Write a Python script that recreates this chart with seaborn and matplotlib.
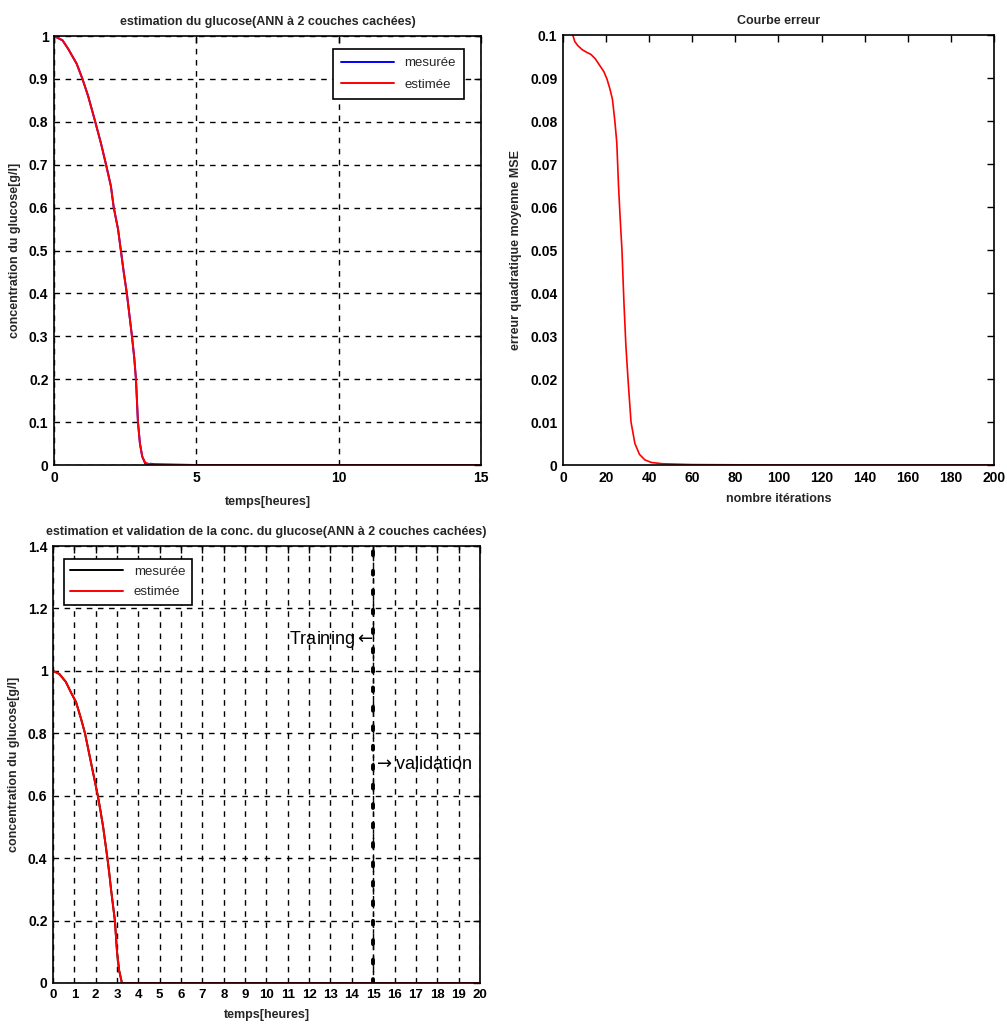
import numpy as np
import pandas as pd
import matplotlib
matplotlib.use("Agg")
import matplotlib.pyplot as plt
import seaborn as sns

# --- glucose estimation (training window, 0-15 h) ---
t_train = [0, 0.3, 0.5, 0.8, 1.0, 1.2, 1.45, 1.65, 1.83, 2.0, 2.1, 2.25, 2.35, 2.45,
           2.56, 2.65, 2.74, 2.82, 2.88, 2.95, 3.02, 3.1, 3.2, 3.3, 3.4, 3.5, 5, 10, 15]
glc_est_train = [1.0, 0.99, 0.97, 0.935, 0.9, 0.86, 0.8, 0.75, 0.7, 0.65, 0.6, 0.55, 0.5, 0.45,
                 0.4, 0.35, 0.3, 0.25, 0.2, 0.1, 0.05, 0.02, 0.006, 0.003, 0.002, 0.0, 0.0, 0.0, 0.0]
glc_meas_train = [1.0, 0.99, 0.97, 0.935, 0.9, 0.86, 0.8, 0.75, 0.7, 0.65, 0.6, 0.55, 0.5, 0.45,
                  0.4, 0.35, 0.3, 0.25, 0.2, 0.1, 0.05, 0.02, 0.004, 0.002, 0.003, 0.002, 0.0, 0.0, 0.0]

# --- MSE learning curve ---
iterations = [4.6, 5.5, 7, 9, 11, 13, 15, 17, 19, 20.5, 21.8, 23, 24.1, 25, 25.8, 26.5,
              27.4, 28.3, 29.2, 30.2, 31.6, 33.4, 35.5, 38, 41, 46, 60, 100, 150, 200]
mse = [0.1, 0.0985, 0.0975, 0.0966, 0.096, 0.0955, 0.0945, 0.093, 0.0915, 0.0897, 0.0875, 0.085,
       0.08, 0.075, 0.065, 0.058, 0.05, 0.038, 0.028, 0.02, 0.01, 0.005, 0.0025, 0.0012, 0.0006,
       0.0003, 0.0001, 0.0, 0.0, 0.0]

# --- estimation + validation (0-20 h) ---
t_full = [0, 0.3, 0.6, 0.85, 1.08, 1.3, 1.5, 1.65, 1.8, 1.95, 2.1, 2.23, 2.35, 2.45, 2.55,
          2.64, 2.72, 2.81, 2.9, 3.0, 3.1, 3.23, 4, 10, 15, 20]
glc_est_full = [1.0, 0.99, 0.965, 0.93, 0.9, 0.85, 0.8, 0.75, 0.7, 0.65, 0.6, 0.55, 0.5, 0.45, 0.4,
                0.35, 0.3, 0.25, 0.2, 0.1, 0.04, 0.0, 0.0, 0.0, 0.0, 0.0]
glc_meas_full = list(glc_est_full)
split_time = 15
train_label = r"Training$\leftarrow$"
valid_label = r"$\rightarrow$validation"
train_label_y = 1.1
valid_label_y = 0.7

sns.set_theme(style="white")
plt.rcParams["font.family"] = ["Liberation Sans", "DejaVu Sans"]
plt.rcParams["axes.edgecolor"] = "black"
plt.rcParams["axes.linewidth"] = 1.2
plt.rcParams["mathtext.fontset"] = "dejavusans"

fig = plt.figure(figsize=(10.07, 10.32), dpi=100)
ax1 = fig.add_axes([0.0536, 0.5494, 0.424, 0.4157])
ax2 = fig.add_axes([0.559, 0.5494, 0.428, 0.4166])
ax3 = fig.add_axes([0.0526, 0.0475, 0.424, 0.4234])

lbl_font = dict(fontsize=9, fontweight="bold")
grid_kw = dict(color="black", linestyle=(0, (4, 4)), linewidth=1.0)


def style_axes(ax):
    ax.tick_params(direction="in", length=5, width=1, top=True, right=True,
                   colors="black", pad=4)
    for lab in ax.get_xticklabels() + ax.get_yticklabels():
        lab.set_fontweight("bold")
        lab.set_fontsize(10)
    for s in ax.spines.values():
        s.set_color("black")
        s.set_linewidth(1.2)


def fmt(v):
    return f"{v:.2f}".rstrip("0").rstrip(".")


# top-left: glucose estimation
df1 = pd.DataFrame({"t": t_train + t_train,
                    "g": glc_meas_train + glc_est_train,
                    "serie": ["mesurée"] * len(t_train) + ["estimée"] * len(t_train)})
sns.lineplot(data=df1, x="t", y="g", hue="serie", palette={"mesurée": "blue", "estimée": "red"},
             ax=ax1, linewidth=1.4, estimator=None, sort=False)
ax1.set_xlim(0, 15)
ax1.set_ylim(0, 1)
ax1.set_xticks([0, 5, 10, 15])
yt1 = np.round(np.arange(0, 1.01, 0.1), 2)
ax1.set_yticks(yt1)
ax1.set_yticklabels([fmt(v) for v in yt1])
ax1.grid(True, **grid_kw)
ax1.set_title("estimation du glucose(ANN à 2 couches cachées)", fontsize=9, fontweight="bold", pad=8)
ax1.set_xlabel("temps[heures]", labelpad=8, **lbl_font)
ax1.set_ylabel("concentration du glucose[g/l]", labelpad=6, **lbl_font)
leg = ax1.legend(loc="upper right", frameon=True, fancybox=False, edgecolor="black",
                 fontsize=9.5, handlelength=4, borderpad=0.6, labelspacing=0.7,
                 bbox_to_anchor=(0.975, 0.985), framealpha=1)
leg.get_frame().set_linewidth(1.2)
style_axes(ax1)

# top-right: MSE
df2 = pd.DataFrame({"it": iterations, "mse": mse})
sns.lineplot(data=df2, x="it", y="mse", color="red", linewidth=1.2, ax=ax2)
ax2.set_xlim(0, 200)
ax2.set_ylim(0, 0.1)
ax2.set_xticks(np.arange(0, 201, 20))
yt2 = np.round(np.arange(0, 0.1001, 0.01), 3)
ax2.set_yticks(yt2)
ax2.set_yticklabels([fmt(v) for v in yt2])
ax2.set_title("Courbe erreur", fontsize=9, fontweight="bold", pad=8)
ax2.set_xlabel("nombre itérations", labelpad=6, **lbl_font)
ax2.set_ylabel("erreur quadratique moyenne MSE", labelpad=6, **lbl_font)
style_axes(ax2)

# bottom-left: estimation and validation
df3 = pd.DataFrame({"t": t_full + t_full,
                    "g": glc_meas_full + glc_est_full,
                    "serie": ["mesurée"] * len(t_full) + ["estimée"] * len(t_full)})
sns.lineplot(data=df3, x="t", y="g", hue="serie", palette={"mesurée": "black", "estimée": "red"},
             ax=ax3, linewidth=1.4, estimator=None, sort=False)
ax3.axvline(split_time, color="black", linestyle=(0, (1, 4)), linewidth=2.8,
            dash_capstyle="round", zorder=5)
ax3.axvline(split_time, color="black", linestyle=(0, (3, 3)), linewidth=1.0, zorder=5)
ax3.set_xlim(0, 20)
ax3.set_ylim(0, 1.4)
ax3.set_xticks(np.arange(0, 21, 1))
yt3 = np.round(np.arange(0, 1.41, 0.2), 1)
ax3.set_yticks(yt3)
ax3.set_yticklabels([fmt(v) for v in yt3])
ax3.grid(True, **grid_kw)
ax3.text(split_time, train_label_y, train_label, ha="right", va="center", fontsize=13,
         color="black")
ax3.text(split_time, valid_label_y, valid_label, ha="left", va="center", fontsize=13,
         color="black")
ax3.set_title("estimation et validation de la conc. du glucose(ANN à 2 couches cachées)",
              fontsize=9, fontweight="bold", pad=8)
ax3.set_xlabel("temps[heures]", labelpad=6, **lbl_font)
ax3.set_ylabel("concentration du glucose[g/l]", labelpad=6, **lbl_font)
leg3 = ax3.legend(loc="upper left", frameon=True, fancybox=False, edgecolor="black",
                  fontsize=9.5, handlelength=4, borderpad=0.5, labelspacing=0.6,
                  bbox_to_anchor=(0.01, 0.985), framealpha=1)
leg3.get_frame().set_linewidth(1.2)
style_axes(ax3)
for lab in ax3.get_xticklabels():
    lab.set_fontsize(9.5)

fig.savefig("out.png", dpi=100, facecolor="white")
